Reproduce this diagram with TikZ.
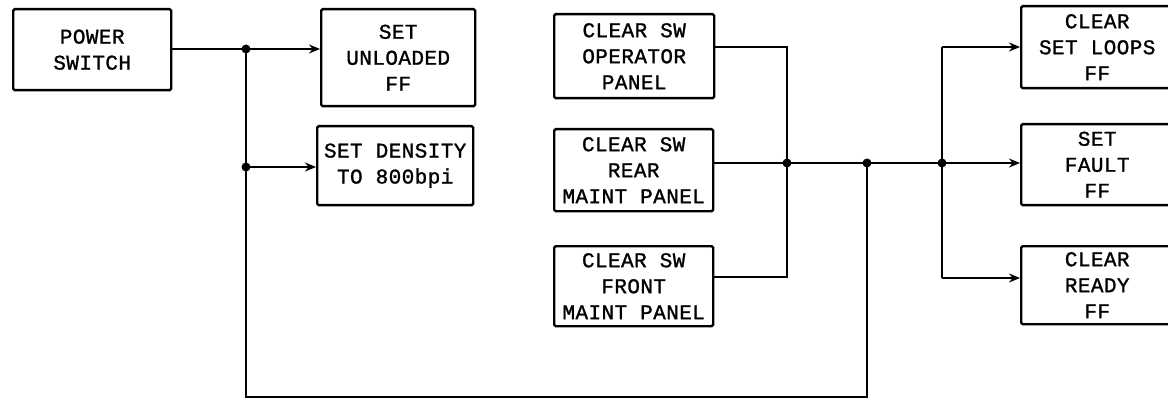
\documentclass[tikz,border=0pt]{standalone}
\usepackage{fontspec}
\usetikzlibrary{arrows.meta}
\newfontfamily\lettering[LetterSpace=2,FakeBold=1.2]{Liberation Mono}
\begin{document}
\begin{tikzpicture}[x=1pt,y=-1pt,
  blk/.style={draw, line width=2.4pt, rounded corners=1.5pt, anchor=north west, inner sep=0pt, font=\lettering\fontsize{21}{26}\selectfont, align=center},
  wire/.style={line width=2.4pt},
  arr/.style={wire,-{Stealth[length=11pt,width=9pt]}},
  dot/.style={circle, fill, inner sep=0pt, minimum size=9pt}]
\useasboundingbox (0,0) rectangle (1168,401);
\node[blk, minimum width=158pt, minimum height=81pt] (ps) at (12,8) {POWER\\SWITCH};
\node[blk, minimum width=154pt, minimum height=97pt] (su) at (320,8) {SET\\UNLOADED\\FF};
\node[blk, minimum width=156pt, minimum height=79pt] (sd) at (316,125) {SET DENSITY\\TO 800bpi};
\node[blk, minimum width=160pt, minimum height=84pt] (op) at (553,13) {CLEAR SW\\OPERATOR\\PANEL};
\node[blk, minimum width=159pt, minimum height=82pt] (rr) at (553,128) {CLEAR SW\\REAR\\MAINT PANEL};
\node[blk, minimum width=159pt, minimum height=80pt] (fr) at (553,245) {CLEAR SW\\FRONT\\MAINT PANEL};
\node[blk, minimum width=152pt, minimum height=82pt] (lp) at (1020,5) {CLEAR\\SET LOOPS\\FF};
\node[blk, minimum width=152pt, minimum height=81pt] (ft) at (1020,123) {SET\\FAULT\\FF};
\node[blk, minimum width=152pt, minimum height=78pt] (rd) at (1020,245) {CLEAR\\READY\\FF};
\coordinate (j1) at (246,49);
\coordinate (j2) at (246,167);
\coordinate (j3) at (787,163);
\coordinate (j4) at (867,163);
\coordinate (j5) at (942,163);
\coordinate (c1) at (246,397);
\coordinate (c2) at (867,397);
\coordinate (b1) at (787,47);
\coordinate (b2) at (787,277);
\coordinate (u1) at (942,47);
\coordinate (u2) at (942,278);
\draw[wire] (ps.east |- j1) -- (j1) -- (j2) -- (c1) -- (c2) -- (j4);
\draw[arr] (j1) -- (j1 -| su.west);
\draw[arr] (j2) -- (j2 -| sd.west);
\draw[wire] (op.east |- b1) -- (b1) -- (b2) -- (fr.east |- b2);
\draw[wire] (rr.east |- j3) -- (j3) -- (j4) -- (j5);
\draw[arr] (j5) -- (j5 -| ft.west);
\draw[wire] (u1) -- (u2);
\draw[arr] (u1) -- (u1 -| lp.west);
\draw[arr] (u2) -- (u2 -| rd.west);
\node[dot] (d1) at (j1) {};
\node[dot] (d2) at (j2) {};
\node[dot] (d3) at (j3) {};
\node[dot] (d4) at (j4) {};
\node[dot] (d5) at (j5) {};
\end{tikzpicture}
\end{document}
